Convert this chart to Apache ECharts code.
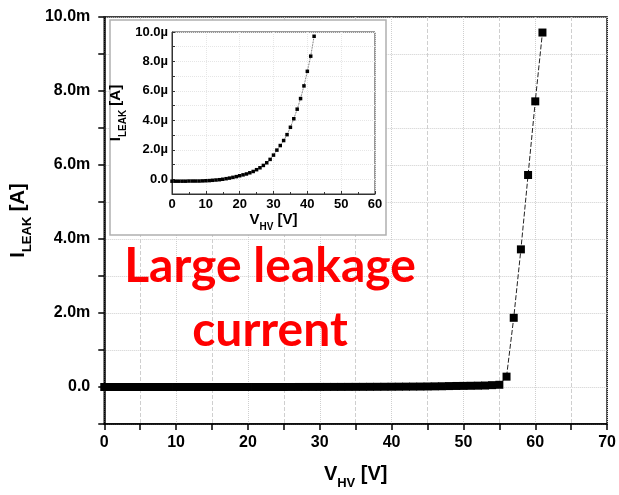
<!DOCTYPE html>
<html>
<head>
<meta charset="utf-8">
<script src="https://cdn.jsdelivr.net/npm/echarts@6/dist/echarts.min.js"></script>
<style>
  html, body { margin: 0; padding: 0; background: #fff; }
  #chart { width: 619px; height: 495px; }
</style>
</head>
<body>
<div id="chart"></div>
<script>
// main plot: V_HV [V] vs I_LEAK [mA]
const mainV = [0, 1, 2, 3, 4, 5, 6, 7, 8, 9, 10, 11, 12, 13, 14, 15, 16, 17, 18, 19, 20,
  21, 22, 23, 24, 25, 26, 27, 28, 29, 30, 31, 32, 33, 34, 35, 36, 37, 38, 39, 40,
  41, 42, 43, 44, 45, 46, 47, 48, 49, 50, 51, 52, 53, 54, 55, 56, 57, 58, 59, 60, 61];
const mainI = [0, 0, 0, 0, 0, 0, 0, 0, 0, 0, 0, 0, 0, 0, 0, 0, 0, 0, 0, 0, 0.0003,
  0.0003, 0.0004, 0.0004, 0.0005, 0.0007, 0.0008, 0.0009, 0.0011, 0.0014, 0.0016, 0.002, 0.0023, 0.0026, 0.003, 0.0035, 0.0041, 0.0048, 0.0055, 0.0063, 0.0073,
  0.0084, 0.0097, 0.011, 0.012, 0.014, 0.017, 0.02, 0.025, 0.028, 0.03, 0.033, 0.036, 0.04, 0.05, 0.06, 0.28, 1.87, 3.72, 5.73, 7.72, 9.58];

// inset: V_HV [V] vs I_LEAK [uA]
const insetV = [0, 1, 2, 3, 4, 5, 6, 7, 8, 9, 10, 11, 12, 13, 14, 15, 16, 17, 18, 19, 20,
  21, 22, 23, 24, 25, 26, 27, 28, 29, 30, 31, 32, 33, 34, 35, 36, 37, 38, 39, 40, 41, 42];
const insetI = [-0.13, -0.13, -0.13, -0.13, -0.13, -0.12, -0.12, -0.12, -0.12, -0.11, -0.1,
  -0.09, -0.07, -0.05, -0.03, 0.0, 0.04, 0.08, 0.13, 0.18, 0.24,
  0.3, 0.36, 0.44, 0.53, 0.65, 0.78, 0.94, 1.12, 1.35, 1.64,
  1.98, 2.29, 2.63, 3.03, 3.53, 4.11, 4.76, 5.48, 6.34, 7.33, 8.36, 9.71];

const mainTicksY = [0, 2, 4, 6, 8, 10];
const insetTicksY = [0, 2, 4, 6, 8, 10];

const FONT = "'Liberation Sans', Arial, sans-serif";
const gridGray = "#cfcfcf";

let chart = echarts.init(document.getElementById("chart"), null, { renderer: "canvas" });

function nameRich(big, sub) {
  return {
    m: { fontSize: big, fontWeight: "bold", fontFamily: FONT, color: "#000", padding: [0, 0, Math.round(big * 0.3), 0], verticalAlign: "bottom" },
    s: { fontSize: sub, fontWeight: "bold", fontFamily: FONT, color: "#000", verticalAlign: "bottom" }
  };
}

let option = {
  animation: false,
  grid: [
    { left: 103, top: 17, width: 505, height: 409, show: true, borderColor: "#000", borderWidth: 1.5, backgroundColor: "transparent", z: 0 },
    { left: 172, top: 32, width: 203, height: 162, show: true, borderColor: "#333", borderWidth: 1, backgroundColor: "transparent", z: 5 }
  ],
  xAxis: [
    {
      gridIndex: 0, type: "value", min: 0, max: 70, interval: 10, z: 0,
      name: "{m|V}{s|HV}{m| [V]}", nameLocation: "middle", nameGap: 40,
      nameTextStyle: { rich: nameRich(20, 13) },
      axisLine: { onZero: false, lineStyle: { color: "#000", width: 1.5 } },
      axisTick: { inside: false, length: 6, lineStyle: { color: "#000", width: 1.5 } },
      minorTick: { show: true, splitNumber: 2, length: 6, lineStyle: { color: "#000", width: 1.5 } },
      axisLabel: { margin: 11, fontSize: 16, fontWeight: "bold", fontFamily: FONT, color: "#000" },
      splitLine: { show: true, lineStyle: { color: gridGray, type: "dotted", width: 1 } },
      minorSplitLine: { show: true, lineStyle: { color: gridGray, type: "dashed", width: 1 } }
    },
    {
      gridIndex: 1, type: "value", min: 0, max: 60, interval: 10, z: 5,
      name: "{m|V}{s|HV}{m| [V]}", nameLocation: "middle", nameGap: 17,
      nameTextStyle: { rich: nameRich(15, 10) },
      axisLine: { onZero: false, lineStyle: { color: "#333", width: 1 } },
      axisTick: { inside: true, length: 3, lineStyle: { color: "#333" } },
      minorTick: { show: true, splitNumber: 2, length: 2, lineStyle: { color: "#333" } },
      axisLabel: { margin: 4, fontSize: 13, fontWeight: "bold", fontFamily: FONT, color: "#000" },
      splitLine: { show: true, lineStyle: { color: "#e6e6e6", type: "dotted" } }
    }
  ],
  yAxis: [
    {
      gridIndex: 0, type: "value", min: -1, max: 10, interval: 1, z: 0,
      name: "{m|I}{s|LEAK}{m| [A]}", nameLocation: "middle", nameGap: 66, nameRotate: 90,
      nameTextStyle: { rich: nameRich(20, 13) },
      axisLine: { onZero: false, lineStyle: { color: "#000", width: 1.5 } },
      axisTick: { inside: false, length: 6, lineStyle: { color: "#000", width: 1.5 } },
      axisLabel: {
        margin: 14, fontSize: 16, fontWeight: "bold", fontFamily: FONT, color: "#000",
        formatter: v => mainTicksY.indexOf(v) < 0 ? "" : (v === 0 ? "0.0" : v.toFixed(1) + "m")
      },
      splitLine: { show: true, lineStyle: { color: gridGray, type: "dotted", width: 1 } }
    },
    {
      gridIndex: 1, type: "value", min: -1, max: 10, interval: 1, z: 5,
      name: "{m|I}{s|LEAK}{m| [A]}", nameLocation: "middle", nameGap: 44, nameRotate: 90,
      nameTextStyle: { rich: nameRich(15, 10) },
      axisLine: { onZero: false, lineStyle: { color: "#333", width: 1 } },
      axisTick: { inside: true, length: 3, lineStyle: { color: "#333" } },
      axisLabel: {
        margin: 4, fontSize: 13, fontWeight: "bold", fontFamily: FONT, color: "#000",
        formatter: v => insetTicksY.indexOf(v) < 0 ? "" : (v === 0 ? "0.0" : v.toFixed(1) + "µ")
      },
      splitLine: { show: true, lineStyle: { color: "#e6e6e6", type: "dotted" } }
    }
  ],
  graphic: [
    {
      type: "rect", z: 2,
      shape: { x: 110, y: 20, width: 276, height: 215 },
      style: { fill: "#fff", stroke: "#b0b0b0", lineWidth: 1.5 }
    },
    {
      type: "text", z: 10, x: 270, y: 235,
      style: {
        text: "Large leakage\ncurrent", fill: "#ff0000", fontFamily: "Lato, 'Open Sans', sans-serif",
        fontWeight: "bold", fontSize: 48, lineHeight: 64, align: "center", verticalAlign: "top"
      }
    }
  ],
  series: [
    {
      type: "line", xAxisIndex: 0, yAxisIndex: 0, z: 3,
      data: mainV.map((v, i) => [v, mainI[i]]),
      symbol: "rect", symbolSize: 8,
      itemStyle: { color: "#000" },
      lineStyle: { color: "#222", width: 1, type: [5, 2] }
    },
    {
      type: "line", xAxisIndex: 1, yAxisIndex: 1, z: 6,
      data: insetV.map((v, i) => [v, insetI[i]]),
      symbol: "rect", symbolSize: 3.5,
      itemStyle: { color: "#000" },
      lineStyle: { color: "#333", width: 0.8, type: "dotted" }
    }
  ]
};
chart.setOption(option);
window.addEventListener("resize", () => chart.resize(), false);
</script>
</body>
</html>
